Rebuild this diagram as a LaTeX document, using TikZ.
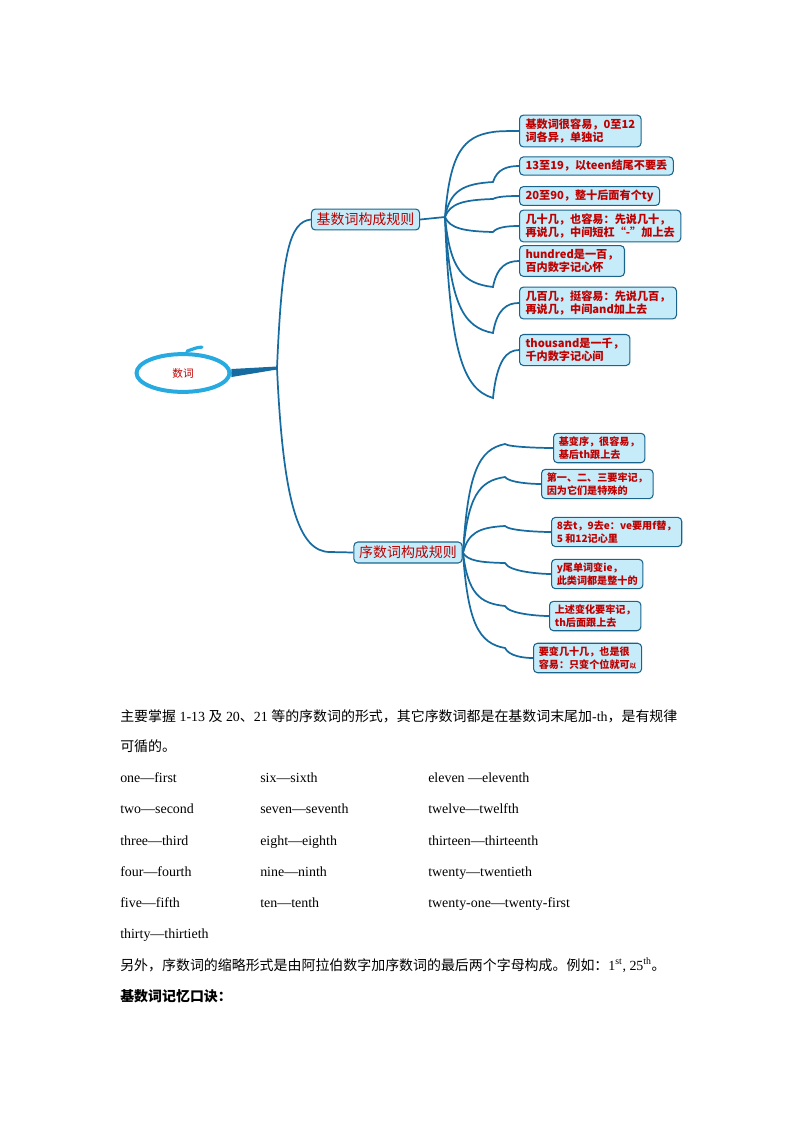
\documentclass[tikz,border=0pt]{standalone}
\usepackage{fontspec}
\setmainfont{Liberation Serif}
\newfontfamily\cjk{Noto Sans CJK SC}
\usetikzlibrary{positioning, calc, shapes.geometric}
\definecolor{mapline}{RGB}{22,108,160}
\definecolor{ruleedge}{RGB}{26,100,140}
\definecolor{rulefill}{RGB}{198,236,250}
\definecolor{rulered}{RGB}{190,0,0}
\definecolor{ringcyan}{RGB}{38,170,224}
\newcommand\zh[1]{{\cjk #1}}
\tikzset{
  topic/.style={rectangle, rounded corners=3pt, draw=ruleedge, fill=rulefill, line width=0.8pt,
    text=rulered, inner xsep=4pt, inner ysep=3pt, font=\cjk\fontsize{10.5}{12}\selectfont},
  leaf/.style={topic, anchor=west, align=left, inner xsep=4.5pt, inner ysep=2.6pt,
    font=\cjk\bfseries\fontsize{8.4}{10.2}\selectfont},
  smallleaf/.style={leaf, inner xsep=4pt, font=\cjk\bfseries\fontsize{7.6}{9.6}\selectfont},
  twig/.style={mapline, line width=1.3pt},
  prose/.style={anchor=base west, inner sep=0pt, font=\fontsize{10.5}{12}\selectfont},
}
\begin{document}
\begin{tikzpicture}[x=0.2646mm, y=-0.2646mm]
  \useasboundingbox (0,0) rectangle (794,1123);
  % root
  \node[ellipse, draw=ringcyan, line width=3pt, minimum width=24.6mm, minimum height=10mm,
    text=rulered, font=\cjk\fontsize{8}{9}\selectfont] (root) at (183,373) {数词};
  \draw[ringcyan, line width=2.4pt, line cap=round] ($(root.north)+(4,-1)$) .. controls +(6,-2) and +(-5,0) .. ($(root.north)+(19,-5)$);
  \coordinate (rootJ) at (277,368);
  \fill[mapline] ($(root.east)+(0,-4)$) -- ($(rootJ)+(0,-1.5)$) -- ($(rootJ)+(0,1.5)$) -- ($(root.east)+(0,4)$) -- cycle;

  % two rule boxes
  \node[topic] (kA) at (365.5,219.5) {基数词构成规则};
  \node[topic] (xB) at (408,552.5) {序数词构成规则};
  \draw[twig] (rootJ) .. controls (282,250) and (290,222) .. (kA.west);
  \draw[twig] (rootJ) .. controls (283,500) and (298,552) .. (330,552) -- (xB.west);
  \coordinate (hubA) at (445,217);
  \coordinate (hubB) at (463,553);
  \draw[twig] (kA.east) -- (hubA);

  % cardinal rules
  \node[leaf] (k1) at (519,131) {基数词很容易，0至12\\词各异，单独记};
  \node[leaf] (k2) at (519,166) {13至19，以teen结尾不要丢};
  \node[leaf] (k3) at (519,196) {20至90，整十后面有个ty};
  \node[leaf] (k4) at (519,226) {几十几，也容易：先说几十，\\再说几，中间短杠“-”加上去};
  \node[leaf] (k5) at (519,261) {hundred是一百，\\百内数字记心怀};
  \node[leaf] (k6) at (519,303) {几百几，挺容易：先说几百，\\再说几，中间and加上去};
  \node[leaf] (k7) at (519,350) {thousand是一千，\\千内数字记心间};
  \foreach \n/\ey/\ay in {k1/132/131, k2/182/166, k3/199/196, k4/232/226, k5/287/261, k6/333/303, k7/398/350}
    \draw[twig] (hubA) .. controls +(5,{0.75*(\ey-217)}) and +(-30,{-0.05*(\ey-217)}) .. (493,\ey)
      .. controls +(4,{0.8*(\ay-\ey)}) and +(-12,0) .. (\n.west);

  % ordinal rules
  \node[smallleaf] (x1) at (553,448) {基变序，很容易，\\基后th跟上去};
  \node[smallleaf] (x2) at (541,484) {第一、二、三要牢记，\\因为它们是特殊的};
  \node[smallleaf] (x3) at (551,532) {8去t，9去e：ve要用f替，\\5 和12记心里};
  \node[smallleaf] (x4) at (551,574) {y尾单词变ie，\\此类词都是整十的};
  \node[smallleaf] (x5) at (549,616) {上述变化要牢记，\\th后面跟上去};
  \node[smallleaf] (x6) at (533,658) {要变几十几，也是很\\容易：只变个位就可{\fontsize{5}{5}\selectfont 以}};
  \foreach \n/\ey/\ay in {x1/444/448, x2/477/484, x3/526/532, x4/563/574, x5/606/616, x6/648/658}
    \draw[twig] (hubB) .. controls +(5,{0.75*(\ey-553)}) and +(-26,{-0.05*(\ey-553)}) .. (505,\ey)
      .. controls +(4,{0.8*(\ay-\ey)}) and +(-10,0) .. (\n.west);

  % text below the map
  \node[prose] (p1) at (120,721) {\zh{主要掌握} 1-13 \zh{及} 20\zh{、}21 \zh{等的序数词的形式，其它序数词都是在基数词末尾加}-th\zh{，是有规律}};
  \node[prose] (p2) at (120,751) {\zh{可循的。}};
  \node[prose] (w1) at (120,782) {one---first};
  \node[prose] (w2) at (120,813) {two---second};
  \node[prose] (w3) at (120,845) {three---third};
  \node[prose] (w4) at (120,876) {four---fourth};
  \node[prose] (w5) at (120,907) {five---fifth};
  \node[prose] (w6) at (120,938) {thirty---thirtieth};
  \node[prose] (s1) at (260,782) {six---sixth};
  \node[prose] (s2) at (260,813) {seven---seventh};
  \node[prose] (s3) at (260,845) {eight---eighth};
  \node[prose] (s4) at (260,876) {nine---ninth};
  \node[prose] (s5) at (260,907) {ten---tenth};
  \node[prose] (e1) at (428,782) {eleven ---eleventh};
  \node[prose] (e2) at (428,813) {twelve---twelfth};
  \node[prose] (e3) at (428,845) {thirteen---thirteenth};
  \node[prose] (e4) at (428,876) {twenty---twentieth};
  \node[prose] (e5) at (428,907) {twenty-one---twenty-first};
  \node[prose] (p3) at (120,970) {\zh{另外，序数词的缩略形式是由阿拉伯数字加序数词的最后两个字母构成。例如：}1\textsuperscript{st}, 25\textsuperscript{th}\zh{。}};
  \node[prose] (p4) at (120,1001) {{\cjk\bfseries 基数词记忆口诀：}};
\end{tikzpicture}
\end{document}
